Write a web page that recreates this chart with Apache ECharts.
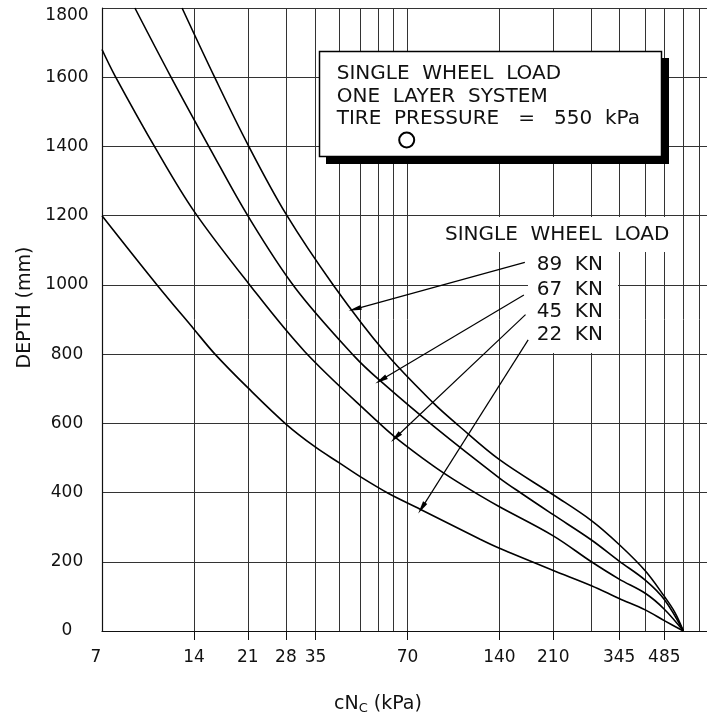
<!DOCTYPE html>
<html>
<head>
<meta charset="UTF-8">
<style>
  html, body { margin: 0; padding: 0; background: #fff; }
  #chart { width: 707px; height: 721px; }
</style>
<script src="https://cdn.jsdelivr.net/npm/echarts@6/dist/echarts.min.js"></script>
</head>
<body>
<div id="chart"></div>
<script>
  // curves: [cNc kPa, depth mm]
  var load89 = [[12.8, 1800], [16.4, 1598], [21, 1406], [28, 1205], [40.2, 997], [59, 806], [85, 659], [103, 593],
    [140, 495], [213, 390], [280, 319], [345, 250], [420, 174], [485, 100], [525, 54], [560, 0]];
  var load67 = [[8.97, 1800], [11.8, 1599], [15.8, 1394], [21, 1200], [30, 992], [47.1, 792], [57.3, 721], [86, 589],
    [140, 442], [165, 398], [210, 336], [280, 263], [345, 202], [420, 147], [485, 91], [560, 0]];
  var load45 = [[7, 1680], [7.72, 1604], [10.6, 1387], [14, 1213], [21, 1007], [32.3, 807], [56, 604], [64, 559],
    [85, 477], [99, 438], [121, 391], [140, 359], [210, 275], [280, 200], [345, 150], [420, 109], [485, 63], [560, 0]];
  var load22 = [[7, 1200], [10.6, 1000], [14, 872], [16.4, 800], [21, 703], [28, 598], [35, 531], [42, 485], [49, 446],
    [60.5, 398], [77, 352], [121, 265], [140, 239], [210, 175], [280, 131], [345, 94], [420, 61], [485, 30], [560, 0]];

  var gridValues = [7, 14, 21, 28, 35, 42, 49, 56, 63, 70, 140, 210, 280, 345, 420, 485, 560, 630, 700];
  var labelValues = [7, 14, 21, 28, 35, 70, 140, 210, 345, 485];
  var tickValues = [14, 21, 28, 35, 70, 140, 210, 345, 485];

  var loadNames = ['89  KN', '67  KN', '45  KN', '22  KN'];
  // arrows from the load labels to the curves
  var arrowFrom = [[169.5, 1065], [168.3, 971], [170.4, 914], [173.8, 841]];
  var arrowTo = [[47.1, 930], [57.3, 725], [64, 559], [77.9, 355]];

  var font = 'DejaVu Sans';
  var ink = '#111';

  function curve(name, data, i) {
    return {
      type: 'line',
      name: name,
      data: data,
      xAxisIndex: 0,
      symbol: 'none',
      smooth: 0.35,
      lineStyle: { color: '#000', width: 1.6 },
      markLine: {
        silent: true,
        animation: false,
        symbol: ['none', 'triangle'],
        label: { show: false },
        lineStyle: { color: '#000', width: 1.2, type: 'solid' },
        data: [[
          { coord: arrowFrom[i], symbol: 'none' },
          { coord: arrowTo[i], symbol: 'triangle', symbolSize: [5, 13] }
        ]]
      }
    };
  }

  var graphics = [
    // legend box with shadow
    { type: 'rect', z: 20, shape: { x: 326, y: 58, width: 343, height: 106 }, style: { fill: '#000' } },
    { type: 'rect', z: 21, shape: { x: 319.5, y: 51.5, width: 342, height: 105 }, style: { fill: '#fff', stroke: '#000', lineWidth: 1.5 } },
    { type: 'text', z: 22, x: 336.7, y: 74, style: { text: 'SINGLE  WHEEL  LOAD', font: '20px "DejaVu Sans"', fill: ink, verticalAlign: 'middle' } },
    { type: 'text', z: 22, x: 336.7, y: 96.7, style: { text: 'ONE  LAYER  SYSTEM', font: '20px "DejaVu Sans"', fill: ink, verticalAlign: 'middle' } },
    { type: 'text', z: 22, x: 336.7, y: 118.3, style: { text: 'TIRE  PRESSURE   =   550  kPa', font: '20px "DejaVu Sans"', fill: ink, verticalAlign: 'middle' } },
    { type: 'circle', z: 22, shape: { cx: 406.7, cy: 140, r: 7.5 }, style: { fill: 'none', stroke: '#000', lineWidth: 2 } },
    // white patches behind the load labels
    { type: 'rect', z: 1, shape: { x: 440, y: 217, width: 237, height: 35 }, style: { fill: '#fff' } },
    { type: 'rect', z: 1, shape: { x: 528, y: 252, width: 90, height: 101 }, style: { fill: '#fff' } },
    { type: 'text', z: 22, x: 445, y: 234.3, style: { text: 'SINGLE  WHEEL  LOAD', font: '20px "DejaVu Sans"', fill: ink, verticalAlign: 'middle' } }
  ];
  var labelY = [265, 289.3, 311.7, 335];
  loadNames.forEach(function (t, i) {
    graphics.push({ type: 'text', z: 22, x: 536.7, y: labelY[i], style: { text: t, font: '20px "DejaVu Sans"', fill: ink, verticalAlign: 'middle' } });
  });

  var chart = echarts.init(document.getElementById('chart'));
  chart.setOption({
    animation: false,
    backgroundColor: '#fff',
    grid: { left: 102, top: 8, width: 611, height: 623, containLabel: false, outerBoundsMode: 'none' },
    xAxis: [{
      type: 'log',
      logBase: 10,
      min: 7,
      max: 700,
      axisLine: { show: true, lineStyle: { color: ink, width: 1.2 } },
      axisTick: { show: false, customValues: gridValues },
      splitLine: { show: true, lineStyle: { color: '#333', width: 1 } },
      axisLabel: {
        customValues: labelValues,
        margin: 18,
        fontFamily: font,
        fontSize: 17,
        color: ink,
        formatter: function (v) {
          return Math.round(v) === 7 ? '{s|7}' : String(Math.round(v));
        },
        rich: { s: { fontFamily: font, fontSize: 17, color: ink, padding: [0, 12, 0, 0] } }
      },
      name: 'cN{sub|C} (kPa)',
      nameLocation: 'middle',
      nameGap: 62,
      nameTextStyle: {
        fontFamily: font, fontSize: 19, color: ink, padding: [0, 59, 0, 0],
        rich: { sub: { fontFamily: font, fontSize: 13, color: ink, padding: [9, 0, 0, 0] } }
      }
    }, {
      type: 'log',
      logBase: 10,
      min: 7,
      max: 700,
      position: 'bottom',
      offset: 0,
      axisLine: { show: false },
      axisTick: { show: true, customValues: tickValues, length: 9, lineStyle: { color: ink, width: 1 } },
      axisLabel: { show: false },
      splitLine: { show: false }
    }],
    yAxis: {
      type: 'value',
      min: 0,
      max: 1800,
      interval: 200,
      axisLine: { show: true, lineStyle: { color: ink, width: 1.2 } },
      axisTick: { show: false },
      splitLine: { show: true, lineStyle: { color: '#333', width: 1 } },
      axisLabel: {
        align: 'center',
        margin: 35,
        fontFamily: font,
        fontSize: 17,
        color: ink,
        formatter: function (v) {
          return v === 1800 ? '{t|1800}' : String(v);
        },
        rich: { t: { fontFamily: font, fontSize: 17, color: ink, padding: [16, 0, 0, 0] } }
      },
      name: 'DEPTH (mm)',
      nameLocation: 'middle',
      nameGap: 66,
      nameTextStyle: { fontFamily: font, fontSize: 19, color: ink, padding: [0, 0, 0, 24] }
    },
    series: [
      curve('89 KN', load89, 0),
      curve('67 KN', load67, 1),
      curve('45 KN', load45, 2),
      curve('22 KN', load22, 3)
    ],
    graphic: graphics
  });
</script>
</body>
</html>
